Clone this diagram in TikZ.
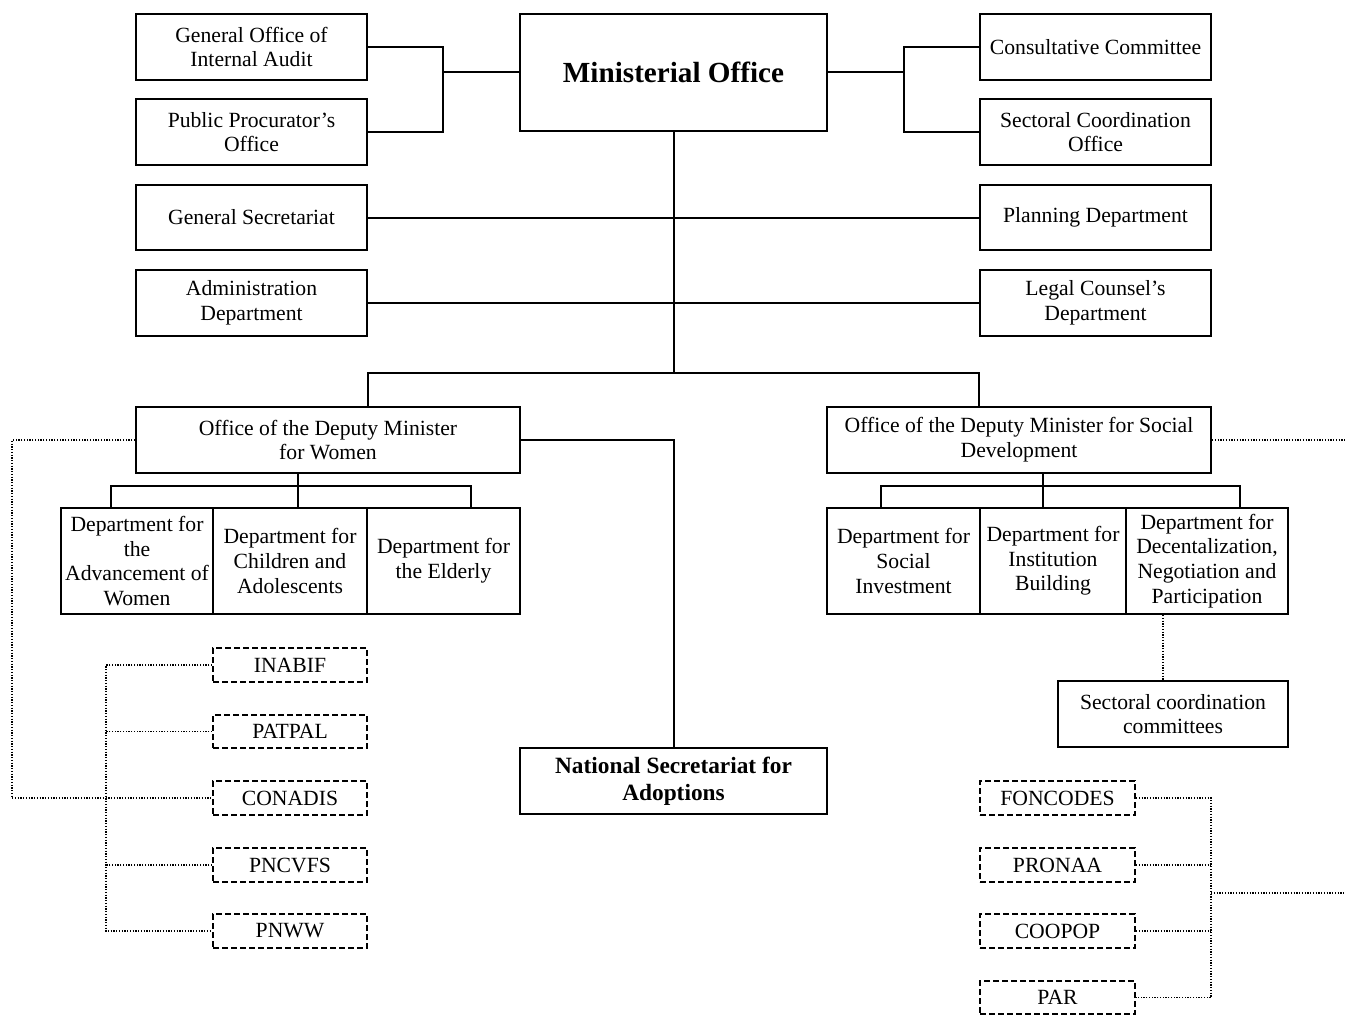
\documentclass[tikz,border=0pt]{standalone}
\usepackage{fontspec}
\setmainfont{Liberation Serif}
\usetikzlibrary{calc}
\newcommand\mybox[7][]{%
  \node[box,#1,minimum width={(#5-#3)*0.6pt},minimum height={(#6-#4)*0.6pt}]
    (#2) at ({(#3+#5)/2},{(#4+#6)/2}) {#7};}
\begin{document}
\begin{tikzpicture}[x=0.6pt,y=-0.6pt,
  box/.style={draw,line width=1.2pt,inner sep=0pt,align=center,font=\fontsize{13}{14.8}\selectfont},
  dbox/.style={box,dash pattern=on 3.6pt off 1.8pt},
  conn/.style={line width=1.2pt},
  dotline/.style={line width=0.75pt,dash pattern=on 0.75pt off 0.9pt}]
\useasboundingbox (0,0) rectangle (1346,1015);
% top row
\mybox{goia}{136}{14}{367}{80}{General Office of\\Internal Audit}
\mybox{ppo}{136}{99}{367}{165}{Public Procurator’s\\Office}
\mybox[font=\fontsize{17.5}{20}\selectfont\bfseries]{mo}{520}{14}{827}{131}{Ministerial Office}
\mybox{cc}{980}{14}{1211}{80}{Consultative Committee}
\mybox{sco}{980}{99}{1211}{165}{Sectoral Coordination\\Office}
\mybox{gs}{136}{185}{367}{250}{General Secretariat}
\mybox{pd}{980}{185}{1211}{250}{Planning Department}
\mybox{ad}{136}{270}{367}{336}{Administration\\Department}
\mybox{lc}{980}{270}{1211}{336}{Legal Counsel’s\\Department}
% deputy offices
\mybox{ow}{136}{407}{520}{473}{Office of the Deputy Minister\\for Women}
\mybox{os}{827}{407}{1211}{473}{Office of the Deputy Minister for Social\\Development}
% women departments
\mybox{d1}{61}{508}{213}{614}{Department for\\the\\Advancement of\\Women}
\mybox{d2}{213}{508}{367}{614}{Department for\\Children and\\Adolescents}
\mybox{d3}{367}{508}{520}{614}{Department for\\the Elderly}
% social departments
\mybox{d4}{827}{508}{980}{614}{Department for\\Social\\Investment}
\mybox{d5}{980}{508}{1126}{614}{Department for\\Institution\\Building}
\mybox{d6}{1126}{508}{1288}{614}{Department for\\Decentalization,\\Negotiation and\\Participation}
\mybox{scc}{1058}{681}{1288}{747}{Sectoral coordination\\committees}
\mybox[font=\fontsize{14}{16}\selectfont\bfseries]{nsa}{520}{748}{827}{814}{National Secretariat for\\Adoptions}
% dashed programmes left
\mybox[dbox]{inabif}{213}{648}{367}{682}{INABIF}
\mybox[dbox]{patpal}{213}{715}{367}{748}{PATPAL}
\mybox[dbox]{conadis}{213}{781}{367}{815}{CONADIS}
\mybox[dbox]{pncvfs}{213}{848}{367}{882}{PNCVFS}
\mybox[dbox]{pnww}{213}{914}{367}{948}{PNWW}
% dashed programmes right
\mybox[dbox]{foncodes}{980}{781}{1135}{815}{FONCODES}
\mybox[dbox]{pronaa}{980}{848}{1135}{882}{PRONAA}
\mybox[dbox]{coopop}{980}{914}{1135}{948}{COOPOP}
\mybox[dbox]{par}{980}{981}{1135}{1014}{PAR}
% coordinates
\coordinate (lb) at (443,72.5);
\coordinate (rbx) at (904,0);
\coordinate (j) at (673.5,373);
\coordinate (wb) at (298,486);
\coordinate (w1) at (111,486);
\coordinate (w3) at (471,486);
\coordinate (sb) at (1043,486);
\coordinate (s1) at (881,486);
\coordinate (s3) at (1240,486);
\coordinate (sx) at (1163,0);
\coordinate (lv) at (106,0);
\coordinate (lo) at (12,0);
\coordinate (rv) at (1211,0);
\coordinate (redge) at (1346,0);
\coordinate (rmid) at (1346,893);
% solid connectors
\draw[conn] (goia.east) -| (lb) |- (ppo.east);
\draw[conn] (lb) -- (mo.west);
\draw[conn] (cc.west) -| (mo.east -| rbx) |- (sco.west);
\draw[conn] (mo.east) -- (mo.east -| rbx);
\draw[conn] (mo.south) -- (j);
\draw[conn] (gs.east) -- (pd.west);
\draw[conn] (ad.east) -- (lc.west);
\draw[conn] (ow.north -| ad.east) |- (j) -| (os.north -| lc.west);
\draw[conn] (ow.east) -| (nsa.north);
\draw[conn] (wb |- ow.south) -- (wb |- d2.north);
\draw[conn] (w1 |- d1.north) -- (w1) -- (w3) -- (w3 |- d3.north);
\draw[conn] (sb |- os.south) -- (sb |- d5.north);
\draw[conn] (s1 |- d4.north) -- (s1) -- (s3) -- (s3 |- d6.north);
% dotted connectors
\draw[dotline] (d6.south -| sx) -- (scc.north -| sx);
\draw[dotline] (inabif.west) -- (inabif.west -| lv) -- (pnww.west -| lv) -- (pnww.west);
\draw[dotline] (patpal.west) -- (patpal.west -| lv);
\draw[dotline] (pncvfs.west) -- (pncvfs.west -| lv);
\draw[dotline] (ow.west) -- (ow.west -| lo) -- (conadis.west -| lo) -- (conadis.west);
\draw[dotline] (foncodes.east) -- (foncodes.east -| rv) -- (par.east -| rv) -- (par.east);
\draw[dotline] (pronaa.east) -- (pronaa.east -| rv);
\draw[dotline] (coopop.east) -- (coopop.east -| rv);
\draw[dotline] (rv |- rmid) -- (rmid);
\draw[dotline] (os.east) -- (os.east -| redge);
\end{tikzpicture}
\end{document}
